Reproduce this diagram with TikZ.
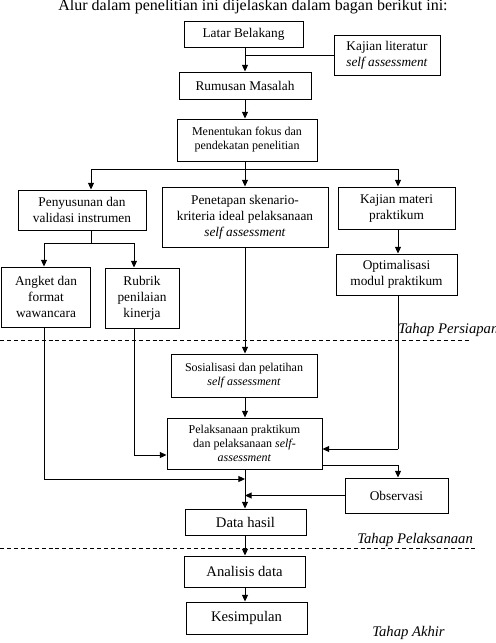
\documentclass[tikz,border=0pt]{standalone}
\usepackage{fontspec}
\setmainfont{Liberation Serif}
\usetikzlibrary{arrows.meta}
\begin{document}
\begin{tikzpicture}[x=0.75pt,y=-0.75pt,
  bx/.style={draw, line width=0.75pt, inner sep=0pt, align=center, font=\fontsize{10}{12}\selectfont},
  sm/.style={font=\fontsize{9}{10.5}\selectfont},
  lg/.style={font=\fontsize{11}{13}\selectfont},
  ln/.style={line width=0.75pt},
  arr/.style={line width=0.75pt, -{Triangle[length=5pt,width=4.5pt]}},
  dsh/.style={line width=0.75pt, dash pattern=on 3pt off 2.2pt},
  stage/.style={anchor=base west, inner sep=0pt, font=\fontsize{11}{13}\selectfont\itshape}]
\useasboundingbox (0,0) rectangle (496,643);
\node[anchor=base, inner sep=0pt, font=\fontsize{12}{14}\selectfont] (title) at (253,10.5) {Alur dalam penelitian ini dijelaskan dalam bagan berikut ini:};
% boxes
\node[bx, minimum width=119*0.75pt, minimum height=26*0.75pt] (lb) at (243.5,34) {Latar Belakang};
\node[bx, minimum width=106*0.75pt, minimum height=40*0.75pt] (kl) at (387,55) {Kajian literatur\\\textit{self assessment}};
\node[bx, minimum width=132*0.75pt, minimum height=27*0.75pt] (rm) at (245,85.5) {Rumusan Masalah};
\node[bx, sm, minimum width=140*0.75pt, minimum height=42*0.75pt] (mf) at (247,140) {Menentukan fokus dan\\pendekatan penelitian};
\node[bx, minimum width=128*0.75pt, minimum height=40*0.75pt] (pv) at (82,210) {Penyusunan dan\\validasi instrumen};
\node[bx, minimum width=166*0.75pt, minimum height=60*0.75pt] (ps) at (245,217) {Penetapan skenario-\\kriteria ideal pelaksanaan\\\textit{self assessment}};
\node[bx, minimum width=117*0.75pt, minimum height=42*0.75pt] (km) at (396.5,208) {Kajian materi\\praktikum};
\node[bx, minimum width=89*0.75pt, minimum height=60*0.75pt] (an) at (46,297) {Angket dan\\format\\wawancara};
\node[bx, minimum width=74*0.75pt, minimum height=60*0.75pt] (rb) at (142,298) {Rubrik\\penilaian\\kinerja};
\node[bx, minimum width=121*0.75pt, minimum height=41*0.75pt] (op) at (396.5,274.5) {Optimalisasi\\modul praktikum};
\node[bx, sm, minimum width=146*0.75pt, minimum height=43*0.75pt] (so) at (244,375.5) {Sosialisasi dan pelatihan\\\textit{self assessment}};
\node[bx, sm, minimum width=155*0.75pt, minimum height=51*0.75pt] (pl) at (244.5,443.5) {Pelaksanaan praktikum\\dan pelaksanaan \textit{self-}\\\textit{assessment}};
\node[bx, minimum width=103*0.75pt, minimum height=35*0.75pt] (ob) at (396.5,495.5) {Observasi};
\node[bx, lg, minimum width=121*0.75pt, minimum height=26*0.75pt] (dh) at (245.5,522) {Data hasil};
\node[bx, lg, minimum width=121*0.75pt, minimum height=31*0.75pt] (ad) at (244.5,571.5) {Analisis data};
\node[bx, lg, minimum width=121*0.75pt, minimum height=32*0.75pt] (ks) at (246.5,618) {Kesimpulan};
% stage labels and dashed lines
\coordinate (d1a) at (0,340); \coordinate (d1b) at (470,340);
\coordinate (d2a) at (0,548); \coordinate (d2b) at (476,548);
\draw[dsh] (d1a) -- (d1b);
\draw[dsh] (d2a) -- (d2b);
\node[stage] (t1) at (398,333) {Tahap Persiapan};
\node[stage] (t2) at (357,543) {Tahap Pelaksanaan};
\node[stage] (t3) at (372,636) {Tahap Akhir};
% connector helper coordinates
\coordinate (ax) at (245,0);
\coordinate (br) at (245,169);
\coordinate (brL) at (91,169);
\coordinate (brR) at (398,169);
\coordinate (pvb) at (91,243);
\coordinate (pvL) at (44,243);
\coordinate (pvR) at (134,243);
\coordinate (anB) at (44,479);
\coordinate (rbB) at (134,455);
\coordinate (opB) at (398,449);
\coordinate (plE) at (398,465);
\coordinate (mg) at (245,479);
% connectors
\draw[arr] (ax |- lb.south) -- (ax |- rm.north);
\draw[ln] (kl.west) -- (kl.west -| ax);
\draw[arr] (ax |- rm.south) -- (ax |- mf.north);
\draw[ln] (ax |- mf.south) -- (br);
\draw[ln] (brL) -- (brR);
\draw[arr] (brL) -- (brL |- pv.north);
\draw[arr] (br) -- (br |- ps.north);
\draw[arr] (brR) -- (brR |- km.north);
\draw[ln] (pvb |- pv.south) -- (pvb);
\draw[ln] (pvL) -- (pvR);
\draw[arr] (pvL) -- (pvL |- an.north);
\draw[arr] (pvR) -- (pvR |- rb.north);
\draw[arr] (brR |- km.south) -- (brR |- op.north);
\draw[arr] (ax |- ps.south) -- (ax |- so.north);
\draw[arr] (ax |- so.south) -- (ax |- pl.north);
\draw[ln] (anB |- an.south) -- (anB);
\draw[arr] (anB) -- (mg);
\draw[ln] (rbB |- rb.south) -- (rbB);
\draw[arr] (rbB) -- (rbB -| pl.west);
\draw[ln] (opB |- op.south) -- (opB);
\draw[arr] (opB) -- (opB -| pl.east);
\draw[ln] (plE -| pl.east) -- (plE);
\draw[arr] (plE) -- (plE |- ob.north);
\draw[arr] (ob.west) -- (ob.west -| ax);
\draw[arr] (ax |- pl.south) -- (ax |- dh.north);
\draw[arr] (ax |- dh.south) -- (ax |- ad.north);
\draw[arr] (ax |- ad.south) -- (ax |- ks.north);
\end{tikzpicture}
\end{document}
